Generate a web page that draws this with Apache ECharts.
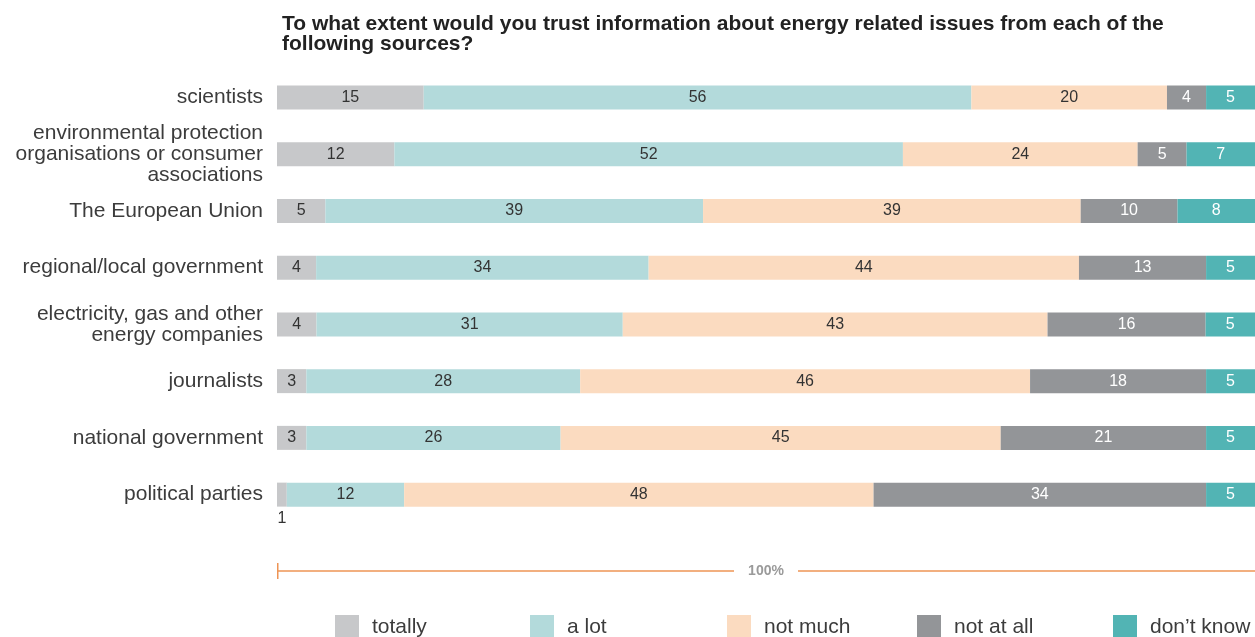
<!DOCTYPE html>
<html>
<head>
<meta charset="utf-8">
<script src="https://cdn.jsdelivr.net/npm/echarts@6/dist/echarts.min.js"></script>
<style>
  html, body { margin: 0; padding: 0; background: #fff; }
  #chart { width: 1255px; height: 637px; }
</style>
</head>
<body>
<div id="chart"></div>
<script>
// Trust in sources of information on energy issues (%)
const categories = [
  'scientists',
  'environmental protection\norganisations or consumer\nassociations',
  'The European Union',
  'regional/local government',
  'electricity, gas and other\nenergy companies',
  'journalists',
  'national government',
  'political parties'
];
const seriesNames = ['totally', 'a lot', 'not much', 'not at all', 'don\u2019t know'];
const totally   = [15, 12, 5, 4, 4, 3, 3, 1];
const aLot      = [56, 52, 39, 34, 31, 28, 26, 12];
const notMuch   = [20, 24, 39, 44, 43, 46, 45, 48];
const notAtAll  = [4, 5, 10, 13, 16, 18, 21, 34];
const dontKnow  = [5, 7, 8, 5, 5, 5, 5, 5];

const rows = [totally, aLot, notMuch, notAtAll, dontKnow];
const colors = ['#c7c8ca', '#b3dadb', '#fbdbc0', '#939598', '#52b4b4'];
const labelColors = ['#333', '#333', '#333', '#fff', '#fff'];
const legendLeft = [330, 525, 722, 912, 1108];

// each bar is scaled to fill 100%
const totals = categories.map((_, i) => rows.reduce((s, r) => s + r[i], 0));

const FONT = 'Liberation Sans, Arial, sans-serif';
const ORANGE = '#ee9455';

const series = rows.map((vals, si) => ({
  name: seriesNames[si],
  type: 'bar',
  stack: 'all',
  barWidth: 24,
  itemStyle: { color: colors[si] },
  label: {
    show: true,
    position: 'inside',
    color: labelColors[si],
    fontFamily: FONT,
    fontSize: 16,
    formatter: p => String(vals[p.dataIndex])
  },
  data: vals.map((v, i) => {
    const item = { value: v / totals[i] * 100 };
    if (v < 2) {
      // too narrow for an inside label
      item.label = { position: 'bottom', distance: 4, color: '#333' };
    }
    return item;
  })
}));

// one legend block per series so the entries sit at even spacing
const legends = seriesNames.map((name, i) => ({
  data: [name],
  left: legendLeft[i],
  top: 610,
  icon: 'rect',
  itemWidth: 24,
  itemHeight: 24,
  selectedMode: false,
  textStyle: {
    fontFamily: FONT,
    fontSize: 21,
    color: '#3c3c3c',
    padding: [0, 0, 0, 8]
  }
}));

const chart = echarts.init(document.getElementById('chart'), null, { renderer: 'canvas' });
chart.setOption({
  animation: false,
  backgroundColor: '#fff',
  title: {
    text: 'To what extent would you trust information about energy related issues from each of the\nfollowing sources?',
    left: 277,
    top: 9,
    textStyle: {
      fontFamily: FONT,
      fontWeight: 'bold',
      fontSize: 21,
      lineHeight: 20,
      color: '#222'
    }
  },
  legend: legends,
  grid: { left: 277, right: 0, top: 69, height: 454, containLabel: false },
  xAxis: {
    type: 'value',
    min: 0,
    max: 100,
    splitLine: { show: false },
    axisLabel: { show: false },
    axisLine: { show: false },
    axisTick: { show: false }
  },
  yAxis: {
    type: 'category',
    data: categories,
    inverse: true,
    axisLine: { show: false },
    axisTick: { show: false },
    axisLabel: {
      margin: 14,
      fontFamily: FONT,
      fontSize: 21,
      lineHeight: 21,
      color: '#3c3c3c',
      align: 'right'
    }
  },
  series: series
});

// "100%" bracket under the bars, spanning the full value axis
function drawBracket() {
  const x0 = chart.convertToPixel({ xAxisIndex: 0 }, 0);
  const x1 = chart.convertToPixel({ xAxisIndex: 0 }, 100);
  const y = 571;
  const mid = (x0 + x1) / 2;
  const gap = 32;
  const line = { stroke: ORANGE, lineWidth: 1.5 };
  chart.setOption({
    graphic: [
      { type: 'line', silent: true, shape: { x1: x0 + 0.75, y1: y - 8, x2: x0 + 0.75, y2: y + 8 }, style: line },
      { type: 'line', silent: true, shape: { x1: x0, y1: y, x2: mid - gap, y2: y }, style: line },
      { type: 'line', silent: true, shape: { x1: mid + gap, y1: y, x2: x1, y2: y }, style: line },
      { type: 'text', silent: true, x: mid, y: y, style: { text: '100%', align: 'center', verticalAlign: 'middle', fill: '#9a9a9a', font: 'bold 14px Liberation Sans, Arial, sans-serif' } }
    ]
  });
}
drawBracket();
</script>
</body>
</html>
